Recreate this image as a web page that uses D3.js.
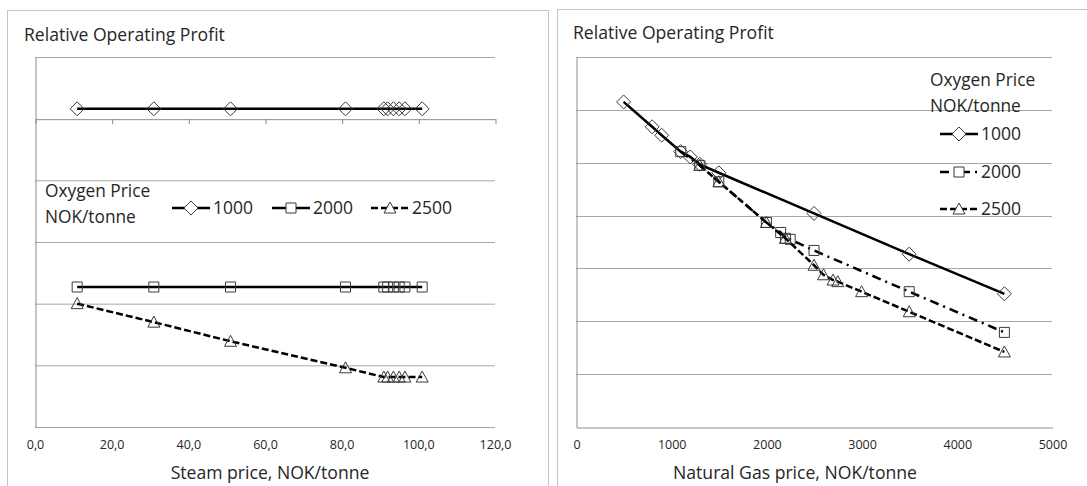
<!DOCTYPE html>
<html>
<head>
<meta charset="utf-8">
<script src="https://cdn.jsdelivr.net/npm/d3@7"></script>
<style>
  body { margin: 0; background: #fff; }
  text { font-family: "Open Sans", sans-serif; fill: #262626; }
</style>
</head>
<body>
<script>
// Datos (unidades relativas: 1 = una linea de grilla)
const PRECIO_VAPOR = [11, 31, 51, 81, 91, 92, 93.5, 95, 96.5, 101];
const VAPOR_1000 = [0.16, 0.16, 0.16, 0.16, 0.16, 0.16, 0.16, 0.16, 0.16, 0.16];
const VAPOR_2000 = [-2.73, -2.73, -2.73, -2.73, -2.73, -2.73, -2.73, -2.73, -2.73, -2.73];
const VAPOR_2500 = [-3.0, -3.3, -3.61, -4.04, -4.19, -4.19, -4.19, -4.19, -4.19, -4.19];

const GAS_1000 = [500, 800, 900, 1100, 1200, 1300, 1500, 2500, 3500, 4500];
const BEN_1000 = [6.15, 5.68, 5.52, 5.21, 5.11, 4.97, 4.81, 4.04, 3.27, 2.52];
const GAS_2000 = [1100, 1300, 1500, 2000, 2150, 2200, 2250, 2500, 3500, 4500];
const BEN_2000 = [5.21, 4.95, 4.64, 3.87, 3.68, 3.57, 3.55, 3.34, 2.56, 1.79];
const GAS_2500 = [1300, 1500, 2000, 2200, 2500, 2600, 2700, 2750, 3000, 3500, 4500];
const BEN_2500 = [4.95, 4.64, 3.87, 3.57, 3.06, 2.88, 2.78, 2.75, 2.56, 2.18, 1.42];

const TICKS_VAPOR = [0, 20, 40, 60, 80, 100, 120];
const TICKS_GAS = [0, 1000, 2000, 3000, 4000, 5000];
const SERIES = ["1000", "2000", "2500"];
const TITULO_Y = "Relative Operating Profit";
const LEYENDA = ["Oxygen Price", "NOK/tonne"];

const WIDTH = 1087;
const HEIGHT = 486;

const svg = d3.select("body")
  .append("svg")
  .attr("width", WIDTH)
  .attr("height", HEIGHT);

// Marcadores (sin relleno, la linea pasa por dentro)
const formas = {
  "1000": "M0,-7L7,0L0,7L-7,0Z",
  "2000": "M-5,-5H5V5H-5Z",
  "2500": "M0,-6L6,5H-6Z",
};
const trazos = {
  "1000": null,
  "2000": null,
  "2500": "7,3",
};
const coma = d3.formatLocale({ decimal: ",", thousands: "", grouping: [3], currency: ["", ""] });

// Panel izquierdo -------------------------------------------------------
svg.append("rect")
  .attr("x", 7.5).attr("y", 10.5)
  .attr("width", 541).attr("height", 490)
  .attr("fill", "none").attr("stroke", "#c4c4c4");

const xVapor = d3.scaleLinear().domain([0, 120]).range([35, 495]);
const yVapor = d3.scaleLinear().domain([-5, 1]).range([427, 57]);

const izq = svg.append("g");

izq.selectAll(".grid")
  .data([1, -1, -2, -3, -4, -5])
  .join("line")
  .attr("x1", 35).attr("x2", 495)
  .attr("y1", (d) => yVapor(d) + 0.5).attr("y2", (d) => yVapor(d) + 0.5)
  .attr("stroke", "#a8a8a8");

// eje Y sin etiquetas
izq.append("g")
  .attr("transform", `translate(${xVapor(0) + 0.5}, 0.5)`)
  .call(d3.axisLeft(yVapor).tickValues([]).tickSizeOuter(0))
  .call((g) => g.select(".domain").attr("stroke", "#8c8c8c"));

// eje X cruzando en 0, con marcas hacia abajo
izq.append("g")
  .attr("transform", `translate(0.5, ${yVapor(0) + 0.5})`)
  .call(d3.axisBottom(xVapor).tickValues(TICKS_VAPOR).tickSize(5).tickSizeOuter(0).tickFormat(""))
  .call((g) => g.selectAll(".domain, line").attr("stroke", "#8c8c8c"));

// etiquetas abajo
izq.append("g")
  .attr("transform", `translate(0, ${yVapor(-5)})`)
  .call(d3.axisBottom(xVapor).tickValues(TICKS_VAPOR).tickSize(0).tickPadding(13).tickFormat(coma.format(".1f")))
  .call((g) => g.select(".domain").remove())
  .call((g) => g.selectAll("text")
    .style("font-family", "'Open Sans', sans-serif")
    .attr("font-size", 12.5).attr("fill", "#595959"));

izq.append("text")
  .attr("x", 24).attr("y", 41)
  .attr("font-size", 17.6)
  .text(TITULO_Y);

izq.append("text")
  .attr("x", 270).attr("y", 479)
  .attr("text-anchor", "middle")
  .attr("font-size", 17.6)
  .text("Steam price, NOK/tonne");

const datosVapor = {
  "1000": VAPOR_1000,
  "2000": VAPOR_2000,
  "2500": VAPOR_2500,
};

const lineaVapor = d3.line()
  .x((d) => xVapor(d[0]))
  .y((d) => yVapor(d[1]));

SERIES.forEach((s) => {
  const puntos = PRECIO_VAPOR.map((x, i) => [x, datosVapor[s][i]]);
  izq.append("path")
    .datum(puntos)
    .attr("d", lineaVapor)
    .attr("fill", "none")
    .attr("stroke", "#000")
    .attr("stroke-width", 2.5)
    .attr("stroke-dasharray", trazos[s]);
  izq.selectAll(`.m${s}`)
    .data(puntos)
    .join("path")
    .attr("class", `m${s}`)
    .attr("d", formas[s])
    .attr("transform", (d) => `translate(${xVapor(d[0])}, ${yVapor(d[1])})`)
    .attr("fill", "none")
    .attr("stroke", "#3a3a3a")
    .attr("stroke-width", 1);
});

// leyenda izquierda (horizontal)
izq.append("text").attr("x", 45).attr("y", 197).attr("font-size", 17.3).text(LEYENDA[0]);
izq.append("text").attr("x", 45).attr("y", 223).attr("font-size", 17.3).text(LEYENDA[1]);

const posLeyIzq = [172, 272, 371];
SERIES.forEach((s, i) => {
  const g = izq.append("g").attr("transform", `translate(${posLeyIzq[i]}, 208)`);
  g.append("line")
    .attr("x1", 0).attr("x2", 38)
    .attr("stroke", "#000").attr("stroke-width", 2.5)
    .attr("stroke-dasharray", trazos[s]);
  g.append("path")
    .attr("d", formas[s])
    .attr("transform", "translate(19,0)")
    .attr("fill", "#fff").attr("stroke", "#3a3a3a");
  g.append("text")
    .attr("x", 41).attr("y", 6)
    .attr("font-size", 17.5)
    .text(s);
});

// Panel derecho ---------------------------------------------------------
svg.append("rect")
  .attr("x", 557.5).attr("y", 9.5)
  .attr("width", 545).attr("height", 490)
  .attr("fill", "none").attr("stroke", "#c4c4c4");

const xGas = d3.scaleLinear().domain([0, 5000]).range([576, 1052]);
const yGas = d3.scaleLinear().domain([0, 7]).range([427, 57]);

const der = svg.append("g");

der.selectAll(".grid")
  .data([1, 2, 3, 4, 5, 6, 7])
  .join("line")
  .attr("x1", 576).attr("x2", 1052)
  .attr("y1", (d) => Math.round(yGas(d)) + 0.5).attr("y2", (d) => Math.round(yGas(d)) + 0.5)
  .attr("stroke", "#a8a8a8");

der.append("g")
  .attr("transform", `translate(${xGas(0) + 0.5}, 0.5)`)
  .call(d3.axisLeft(yGas).tickValues([]).tickSizeOuter(0))
  .call((g) => g.select(".domain").attr("stroke", "#8c8c8c"));

der.append("g")
  .attr("transform", `translate(0.5, ${yGas(0) + 0.5})`)
  .call(d3.axisBottom(xGas).tickValues(TICKS_GAS).tickSize(0).tickPadding(13).tickFormat(d3.format("d")))
  .call((g) => g.select(".domain").attr("stroke", "#8c8c8c"))
  .call((g) => g.selectAll("text")
    .style("font-family", "'Open Sans', sans-serif")
    .attr("font-size", 12.5).attr("fill", "#595959"));

der.append("text")
  .attr("x", 573).attr("y", 39)
  .attr("font-size", 17.6)
  .text(TITULO_Y);

der.append("text")
  .attr("x", 795).attr("y", 479)
  .attr("text-anchor", "middle")
  .attr("font-size", 17.6)
  .text("Natural Gas price, NOK/tonne");

const datosGas = {
  "1000": [GAS_1000, BEN_1000],
  "2000": [GAS_2000, BEN_2000],
  "2500": [GAS_2500, BEN_2500],
};
const trazosGas = {
  "1000": null,
  "2000": "9,5,2,5",
  "2500": "7,3",
};

const lineaGas = d3.line()
  .x((d) => xGas(d[0]))
  .y((d) => yGas(d[1]));

SERIES.forEach((s) => {
  const [xs, ys] = datosGas[s];
  const puntos = xs.map((x, i) => [x, ys[i]]);
  der.append("path")
    .datum(puntos)
    .attr("d", lineaGas)
    .attr("fill", "none")
    .attr("stroke", "#000")
    .attr("stroke-width", 2.5)
    .attr("stroke-dasharray", trazosGas[s]);
  der.selectAll(`.m${s}`)
    .data(puntos)
    .join("path")
    .attr("class", `m${s}`)
    .attr("d", formas[s])
    .attr("transform", (d) => `translate(${xGas(d[0])}, ${yGas(d[1])})`)
    .attr("fill", "none")
    .attr("stroke", "#3a3a3a")
    .attr("stroke-width", 1);
});

// leyenda derecha (vertical)
der.append("text").attr("x", 930).attr("y", 86).attr("font-size", 17.3).text(LEYENDA[0]);
der.append("text").attr("x", 930).attr("y", 112).attr("font-size", 17.3).text(LEYENDA[1]);

const posLeyDer = [134, 172, 209];
SERIES.forEach((s, i) => {
  const g = der.append("g").attr("transform", `translate(940, ${posLeyDer[i]})`);
  g.append("line")
    .attr("x1", 0).attr("x2", 38)
    .attr("stroke", "#000").attr("stroke-width", 2.5)
    .attr("stroke-dasharray", trazosGas[s]);
  g.append("path")
    .attr("d", formas[s])
    .attr("transform", "translate(19,0)")
    .attr("fill", "#fff").attr("stroke", "#3a3a3a");
  g.append("text")
    .attr("x", 41).attr("y", 6)
    .attr("font-size", 17.5)
    .text(s);
});
</script>
</body>
</html>
